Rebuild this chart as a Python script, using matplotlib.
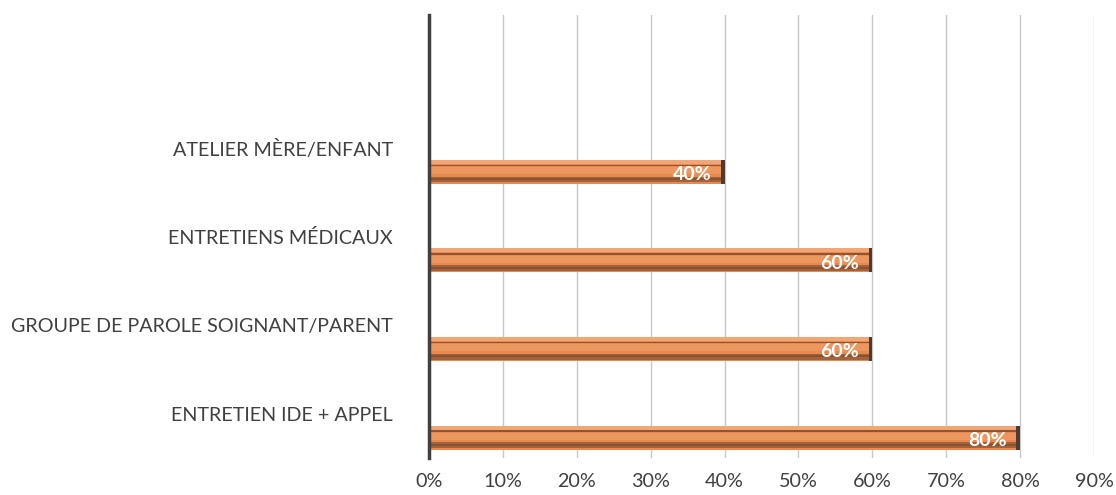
import matplotlib
matplotlib.use("Agg")
import matplotlib.pyplot as plt
from matplotlib.ticker import PercentFormatter

plt.rcParams['font.family'] = ['Lato', 'DejaVu Sans']

categories = ["ENTRETIEN IDE + APPEL", "GROUPE DE PAROLE SOIGNANT/PARENT",
              "ENTRETIENS MÉDICAUX", "ATELIER MÈRE/ENFANT", ""]
values = [0.80, 0.60, 0.60, 0.40]
ticks = [i / 10 for i in range(10)]

fig = plt.figure(figsize=(11.16, 4.95), dpi=100)
ax = fig.add_axes([0.3844, 0.0747, 0.5959, 0.895])

pos = list(range(len(categories)))
bar_pos = [p - 0.27 for p in pos[:len(values)]]
h = 0.27

# bevelled look, layered bands: (offset from centre, height, colour) as fractions of h
bands = [
    (0.0, 1.0, '#E8894F'),
    (0.42, 0.16, '#F0A677'),
    (0.27, 0.06, '#8E5433'),
    (0.05, 0.30, '#EC9660'),
    (-0.32, 0.24, '#A2623C'),
    (-0.30, 0.08, '#8A5231'),
]
for i, (off, fh, col) in enumerate(bands):
    ax.barh([y + off * h for y in bar_pos], values, height=h * fh, color=col,
            linewidth=0, zorder=3 + i * 0.1)

# dark end cap
ax.barh(bar_pos, [0.005] * len(values), left=[v - 0.005 for v in values], height=h,
        color='#4E3A2E', linewidth=0, zorder=4)

for y, v in zip(bar_pos, values):
    ax.text(v - 0.018, y - 0.03, f"{v:.0%}", ha='right', va='center', color='white',
            fontsize=14, fontweight='bold', zorder=6)

ax.set_xlim(0, 0.9)
ax.set_ylim(-0.5, len(categories) - 0.5)
ax.set_xticks(ticks)
ax.xaxis.set_major_formatter(PercentFormatter(1.0, decimals=0))
ax.set_yticks(pos)
ax.set_yticklabels(categories)
ax.grid(axis='x', color='#c8c8c8', linewidth=1, zorder=0)
ax.set_axisbelow(True)

for s in ['top', 'right', 'bottom']:
    ax.spines[s].set_visible(False)
ax.spines['left'].set_color('#404040')
ax.spines['left'].set_linewidth(2.5)
ax.spines['left'].set_zorder(7)

ax.tick_params(axis='y', length=0, pad=26, labelsize=14.2, labelcolor='#404040')
ax.tick_params(axis='x', length=0, pad=11, labelsize=14.2, labelcolor='#404040')

fig.savefig("out.png", dpi=100)
